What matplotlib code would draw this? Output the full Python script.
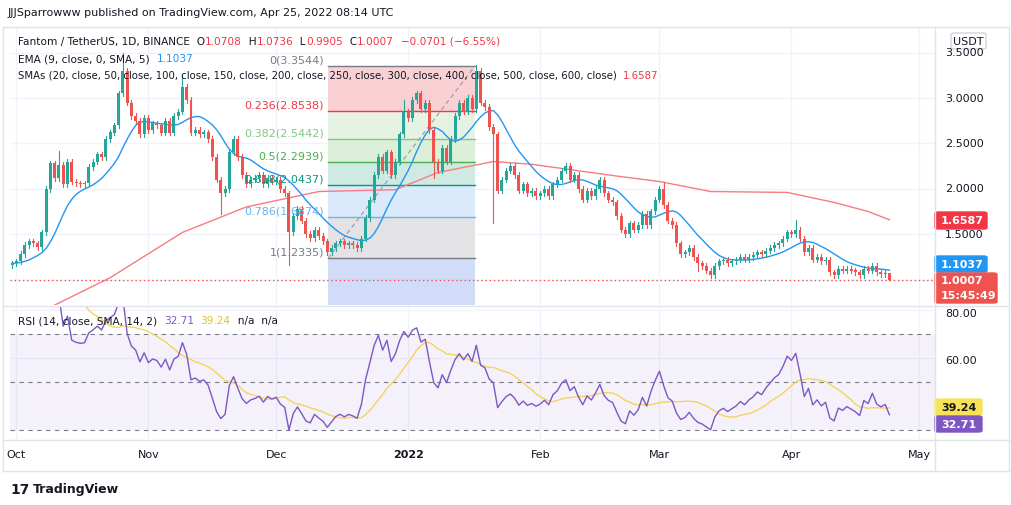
import matplotlib
matplotlib.use("Agg")
import matplotlib.pyplot as plt
import numpy as np
import pandas as pd
from matplotlib.patches import Rectangle, FancyBboxPatch

closes = [1.18,1.20,1.28,1.38,1.42,1.40,1.36,1.52,2.00,2.28,
          2.12,2.26,2.05,2.30,2.08,2.06,2.05,2.06,2.24,2.30,
          2.38,2.35,2.55,2.62,2.70,3.05,3.30,2.95,2.80,2.75,
          2.60,2.78,2.65,2.72,2.70,2.62,2.75,2.62,2.80,2.85,
          3.12,2.98,2.62,2.65,2.60,2.62,2.55,2.35,2.10,1.95,
          2.00,2.40,2.55,2.35,2.15,2.05,2.10,2.12,2.15,2.05,
          2.12,2.08,2.10,2.00,1.95,1.52,1.70,1.78,1.65,1.50,
          1.46,1.55,1.48,1.42,1.30,1.35,1.40,1.42,1.38,1.40,
          1.38,1.35,1.45,1.68,1.88,2.15,2.35,2.20,2.40,2.15,
          2.30,2.60,2.85,2.78,2.98,3.05,2.88,2.95,2.65,2.30,
          2.20,2.45,2.30,2.55,2.80,2.95,2.85,3.00,2.88,3.30,
          2.95,2.90,2.68,2.60,1.98,2.10,2.20,2.25,2.15,1.98,
          2.05,1.95,1.98,1.92,1.95,2.00,1.92,2.05,2.10,2.20,
          2.25,2.10,2.15,2.00,1.88,1.98,1.92,2.00,2.10,1.95,
          1.88,1.85,1.70,1.55,1.50,1.62,1.55,1.60,1.72,1.60,
          1.75,1.88,2.00,1.82,1.65,1.60,1.40,1.28,1.30,1.35,
          1.25,1.18,1.15,1.10,1.05,1.15,1.20,1.22,1.18,1.20,
          1.22,1.25,1.22,1.25,1.27,1.30,1.28,1.32,1.35,1.38,
          1.40,1.45,1.52,1.50,1.55,1.45,1.30,1.35,1.22,1.25,
          1.20,1.22,1.08,1.05,1.12,1.10,1.12,1.10,1.08,1.05,
          1.12,1.10,1.15,1.08,1.06,1.0708,1.0007]
first_open = 1.16
high_overrides = {26: 3.50, 109: 3.36, 40: 3.25, 11: 2.42, 92: 2.98, 153: 2.08, 184: 1.66}
low_overrides = {65: 1.16, 113: 1.62, 49: 1.72, 161: 1.10, 164: 1.02, 206: 0.9905, 99: 2.12}

sma_idx = [10, 23, 40, 55, 72, 90, 100, 113, 122, 142, 152, 164, 182, 193, 201, 206]
sma_val = [0.72, 1.02, 1.52, 1.80, 1.97, 1.99, 2.18, 2.30, 2.27, 2.14, 2.08, 1.97, 1.96, 1.85, 1.75, 1.6587]

fib_levels = [0, 0.236, 0.382, 0.5, 0.618, 0.786, 1]
fib_prices = [3.3544, 2.8538, 2.5442, 2.2939, 2.0437, 1.6874, 1.2335]
price_ticks = [1.0, 1.5, 2.0, 2.5, 3.0, 3.5]
rsi_ticks = [60, 80]
month_labels = ["Oct", "Nov", "Dec", "2022", "Feb", "Mar", "Apr", "May"]
month_dates = ["2021-10-01", "2021-11-01", "2021-12-01", "2022-01-01", "2022-02-01",
               "2022-03-01", "2022-04-01", "2022-05-01"]
start_date = "2021-09-30"

n = len(closes)
c = np.array(closes)
o = np.concatenate([[first_open], c[:-1]])
o[-1] = 1.0708
hi = np.maximum(o, c) + 0.03
lo = np.minimum(o, c) - 0.03
for k, v in high_overrides.items(): hi[k] = v
for k, v in low_overrides.items(): lo[k] = v
hi[-1] = 1.0736
x = np.arange(n)
d0 = pd.Timestamp(start_date)
mpos = [(pd.Timestamp(d) - d0).days for d in month_dates]

s = pd.Series(c)
ema = s.ewm(span=9, adjust=False).mean().rolling(5, min_periods=1).mean()
delta = s.diff()
up = delta.clip(lower=0).ewm(alpha=1/14, adjust=False).mean()
dn = (-delta.clip(upper=0)).ewm(alpha=1/14, adjust=False).mean()
rsi = 100 - 100 / (1 + up / dn)
rsi[:3] = np.nan
rsi_sma = rsi.rolling(14, min_periods=1).mean()

W, H = 1012, 506
fig = plt.figure(figsize=(W/100, H/100), dpi=100)
fig.patch.set_facecolor("white")
def ax_at(l, t, r, b):
    return fig.add_axes([l/W, 1-b/H, (r-l)/W, (b-t)/H])
xl = (-0.5, 216.7)
GRID = "#f0f3fa"
ax = ax_at(10, 30, 935, 306)
ax.set_xlim(*xl); ax.set_ylim(0.72, 3.76)
ax2 = ax_at(10, 308, 935, 440)
ax2.set_xlim(*xl); ax2.set_ylim(26.2, 81.3)
for a in (ax, ax2):
    a.set_xticks([]); a.set_yticks([])
    for sp in a.spines.values(): sp.set_visible(False)
    for m in mpos: a.axvline(m, color=GRID, lw=1, zorder=0)
for p in price_ticks: ax.axhline(p, color=GRID, lw=1, zorder=0)
for p in rsi_ticks: ax2.axhline(p, color=GRID, lw=1, zorder=0)

# fib
fx0, fx1 = 74.2, 108.7
fills = ["#f9d0d4", "#e6f2e3", "#dcefd9", "#cfeae3", "#dbeafb", "#e3e3e5"]
lcols = ["#787b86", "#f23645", "#81c784", "#4caf50", "#089981", "#64b5f6", "#787b86"]
for k in range(6):
    ax.add_patch(Rectangle((fx0, fib_prices[k+1]), fx1-fx0, fib_prices[k]-fib_prices[k+1],
                           color=fills[k], lw=0, zorder=1))
ax.add_patch(Rectangle((fx0, 0.5), fx1-fx0, fib_prices[6]-0.5, color="#d1dcf9", lw=0, zorder=1))
for lv, pr, col in zip(fib_levels, fib_prices, lcols):
    ax.plot([fx0, fx1], [pr, pr], color=col, lw=1, zorder=2)
    ax.text(fx0-1, pr+0.02, f"{lv}({pr:.4f})", color=col, fontsize=8, ha="right", va="bottom", zorder=6)
ax.plot([fx0, fx1], [fib_prices[6], fib_prices[0]], color="#9598a1", lw=0.8, ls=(0, (4, 3)), zorder=2)

ax.plot(sma_idx, sma_val, color="#f77c80", lw=1, zorder=3)
ax.plot(x, ema, color="#2196f3", lw=1, zorder=4)
upc, dnc = "#26a69a", "#ef5350"
for i in range(n):
    col = upc if c[i] >= o[i] else dnc
    ax.plot([i, i], [lo[i], hi[i]], color=col, lw=0.8, zorder=5)
    ax.add_patch(Rectangle((i-0.35, min(o[i], c[i])), 0.7, max(abs(c[i]-o[i]), 0.006), color=col, lw=0, zorder=5))
ax.axhline(c[-1], color=dnc, lw=1, ls=(0, (1, 2)), zorder=3)

# RSI
ax2.axhspan(30, 70, color="#7e57c2", alpha=0.08, lw=0)
for lv in (30, 50, 70):
    ax2.axhline(lv, color="#787b86", lw=0.8, ls=(0, (4, 4)))
ax2.plot(x, rsi_sma, color="#f5d45d", lw=1)
ax2.plot(x, rsi, color="#7e57c2", lw=1)

def hl(y, x0=0, x1=W):
    fig.add_artist(plt.Line2D([x0/W, x1/W], [1-y/H]*2, color="#e0e3eb", lw=1))
def vl(xp, y0, y1):
    fig.add_artist(plt.Line2D([xp/W]*2, [1-y0/H, 1-y1/H], color="#e0e3eb", lw=1))
hl(28, 3, 1009); hl(307, 3, 1009); hl(441, 3, 1009); hl(472, 3, 1009)
vl(935, 28, 472); vl(3, 28, 472); vl(1009, 28, 472)

def ft(xp, yp, s, **kw):
    kw.setdefault("fontsize", 8)
    kw.setdefault("color", "#131722")
    kw.setdefault("va", "center")
    return fig.text(xp/W, 1-yp/H, s, **kw)

ft(8, 13, "JJJSparrowww published on TradingView.com, Apr 25, 2022 08:14 UTC", fontsize=8)
def legend_line(xp, yp, parts, fs=7.6):
    r = fig.canvas.get_renderer()
    for s_, col in parts:
        t = ft(xp, yp, s_, color=col, fontsize=fs)
        xp += t.get_window_extent(r).width
red = "#f23645"
legend_line(18, 42, [("Fantom / TetherUS, 1D, BINANCE  O", "#131722"), ("1.0708", red), ("  H", "#131722"),
                     ("1.0736", red), ("  L", "#131722"), ("0.9905", red), ("  C", "#131722"),
                     ("1.0007", red), ("  −0.0701 (−6.55%)", red)])
legend_line(18, 59, [("EMA (9, close, 0, SMA, 5)  ", "#131722"), ("1.1037", "#2196f3")])
legend_line(18, 76, [("SMAs (20, close, 50, close, 100, close, 150, close, 200, close, 250, close, 300, close, 400, close, 500, close, 600, close)  ", "#131722"), ("1.6587", red)], fs=7.3)
legend_line(18, 321, [("RSI (14, close, SMA, 14, 2)  ", "#131722"), ("32.71", "#7e57c2"), ("  ", "#131722"),
                      ("39.24", "#e2c12c"), ("  n/a  n/a", "#131722")])

def py(p): return 98.7 - (p-3.0)*90.6
for p in price_ticks:
    if p > 1.0:
        ft(945, py(p), f"{p:.4f}", ha="left")
ft(945, 314, "80.00", ha="left"); ft(945, 361, "60.00", ha="left")

def box(x0, y0, x1, y1, fc, lines, ec=None, tc="white", fs=8, bold=True):
    fig.add_artist(FancyBboxPatch((x0/W, 1-y1/H), (x1-x0)/W, (y1-y0)/H,
                                  boxstyle="round,pad=0,rounding_size=0.003", fc=fc, ec=ec or fc, lw=1))
    for k, s_ in enumerate(lines):
        ft((x0+x1)/2 if len(lines) == 1 and not bold else x0+6, y0+(y1-y0)*(k+0.5)/len(lines), s_,
           color=tc, fontsize=fs, ha="center" if len(lines) == 1 and not bold else "left",
           fontweight="bold" if bold else "normal")
box(951, 34, 986, 50, "white", ["USDT"], ec="#d1d4dc", tc="#131722", bold=False)
box(935, 213, 987, 230, "#f23645", ["1.6587"])
box(935, 257, 987, 273, "#2196f3", ["1.1037"])
box(935, 274, 997, 304, "#ef5350", ["1.0007", "15:45:49"])
box(935, 400, 982, 416, "#f7e25a", ["39.24"], tc="#131722")
box(935, 417, 982, 433, "#7e57c2", ["32.71"])

for lab, m in zip(month_labels, mpos):
    xp = 10 + (m + 0.5) / (xl[1]-xl[0]) * 925
    ft(xp, 455, lab, ha="center", fontweight="bold" if lab == "2022" else "normal")

ft(10, 490, "17", fontsize=10, fontweight="bold")
ft(33, 490, "TradingView", fontsize=9, fontweight="bold")

fig.savefig("out.png", dpi=100)
